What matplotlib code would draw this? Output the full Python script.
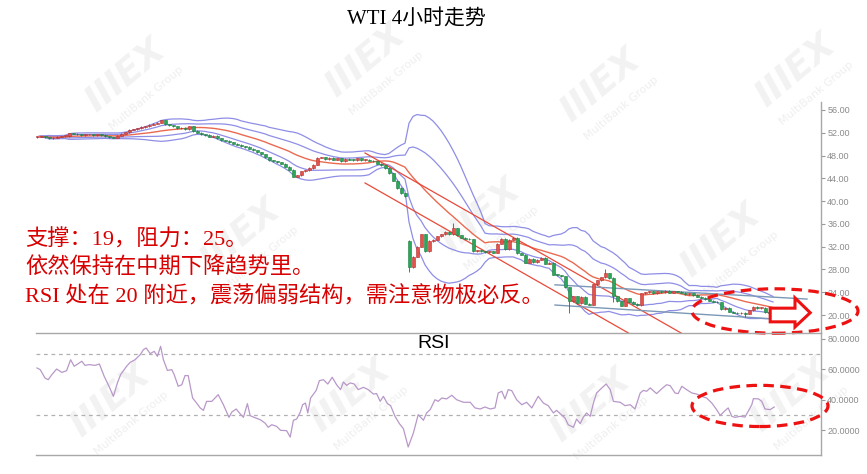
import matplotlib
matplotlib.use("Agg")
import matplotlib.pyplot as plt
import numpy as np
import pandas as pd
from matplotlib.patches import Ellipse, Polygon

plt.rcParams["font.family"] = ["Noto Sans CJK SC", "DejaVu Sans"]

title = "WTI 4小时走势"
notes = [
    "支撑：19，阻力：25。",
    "依然保持在中期下降趋势里。",
    "RSI 处在 20 附近，震荡偏弱结构，需注意物极必反。",
]

# 4h closes, one per candle
closes = [
    51.3, 51.4, 51.2, 51.0, 51.1, 51.3, 51.4, 51.4, 51.9, 51.8,
    51.7, 51.6, 51.7, 51.7, 51.6, 51.7, 51.6, 51.4, 51.2, 51.1,
    51.5, 51.8, 52.1, 52.5, 52.6, 52.8, 53.0, 53.1, 53.4, 53.6,
    53.8, 54.2, 53.5, 53.3, 53.1, 52.8, 52.9, 52.6, 53.1, 52.3,
    52.0, 51.7, 51.6, 51.3, 51.5, 51.0, 50.7, 50.6, 50.3, 50.1,
    49.9, 49.6, 49.5, 49.2, 48.9, 48.6, 48.2, 47.7, 47.2, 47.0,
    46.8, 46.6, 46.0, 45.5, 44.3, 44.5, 45.2, 45.4, 45.8, 46.4,
    47.6, 47.7, 47.4, 47.6, 47.3, 47.5, 47.0, 47.4, 47.3, 47.2,
    47.5, 47.2, 47.3, 47.1, 47.0, 46.6, 46.3, 45.8, 44.9, 43.6,
    42.3, 41.4, 40.9, 28.4, 30.2, 32.0, 34.2, 31.2, 33.0, 33.2,
    33.8, 34.2, 34.6, 34.2, 35.2, 34.0, 33.6, 33.4, 33.3, 31.2,
    31.4, 31.2, 31.0, 31.2, 30.9, 32.5, 33.4, 31.6, 33.2, 33.6,
    30.8, 30.6, 29.2, 29.9, 29.3, 29.7, 30.0, 29.0, 29.2, 27.1,
    27.0, 26.8, 24.9, 22.4, 23.3, 22.1, 23.2, 22.0, 21.8, 25.4,
    26.1, 26.6, 27.3, 26.5, 23.3, 22.4, 21.6, 22.9, 22.3, 22.0,
    21.7, 23.8, 24.0, 24.2, 23.8, 24.2, 24.0, 24.3, 23.9, 24.2,
    24.1, 23.9, 23.7, 23.8, 23.5, 23.2, 23.0, 22.8, 22.5, 22.3,
    22.2, 21.0, 21.3, 20.6, 20.4, 20.3, 20.4, 20.2, 20.8, 21.4,
    21.2, 21.3, 20.5, 20.4, 20.4,
]
first_open = 51.2
gap_opens = {93: 33.0}
wick_highs = {104: 36.1, 142: 28.0}
wick_lows = {93: 27.6, 133: 20.4, 144: 22.3, 177: 19.7}

rsi_idx = [
    0, 0.8, 2.0, 2.8, 3.7, 4.9, 6.2, 7.4, 8.4, 9.3, 10.3, 11.2, 12.0, 13.1, 14.5,
    15.6, 16.8, 18.0, 19.1, 20.1, 20.9, 22.4, 23.3, 24.5, 25.8, 26.6, 27.3, 28.3,
    29.3, 30.1, 30.9, 31.6, 32.6, 33.7, 34.3, 35.3, 36.2, 37.0, 37.8, 38.9, 39.9,
    40.8, 41.6, 42.4, 43.7, 44.5, 45.3, 46.6, 48.0, 48.7, 49.8, 50.6, 51.6, 52.6,
    53.3, 54.3, 55.8, 57.0, 57.8, 58.7, 59.9, 60.9, 62.4, 63.3, 64.1, 64.9, 65.8,
    66.4, 67.1, 67.7, 68.4, 69.8, 70.6, 71.6, 72.7, 73.8, 74.9, 75.9, 76.6, 77.4,
    78.3, 79.3, 80.3, 81.6, 82.8, 84.1, 84.9, 85.8, 86.6, 87.6, 88.4, 89.5, 90.6,
    91.6, 92.8, 94.1, 95.3, 96.6, 97.4, 98.3, 99.5, 100.3, 101.2, 102.4, 103.7,
    104.9, 106.6, 108.3, 109.5, 110.8, 112.0, 113.3, 114.5, 115.3, 116.2, 117.0,
    117.8, 118.7, 119.9, 121.2, 122.4, 123.7, 125.3, 126.6, 127.8, 129.1, 129.9,
    130.8, 132.0, 132.8, 134.1, 134.9, 135.8, 136.6, 137.4, 138.3, 139.1, 139.9,
    141.2, 142.3, 143.3, 144.1, 145.8, 147.0, 148.3, 149.5, 150.8, 151.6, 152.4,
    153.3, 154.9, 156.2, 157.4, 158.3, 159.5, 160.3, 161.2, 162.4, 163.7, 164.9,
    166.2, 167.4, 168.7, 169.9, 170.8, 172.0, 172.8, 173.7, 174.5, 175.8, 177.0,
    177.8, 178.7, 179.1, 180.4, 181.2, 182.0, 183.3, 184.3,
]
rsi_vals = [
    61.0, 59.9, 54.4, 53.3, 56.6, 60.3, 58.1, 59.2, 66.4, 62.1, 63.8, 65.4, 62.7, 63.2, 62.7,
    63.6, 55.5, 49.0, 42.4, 51.2, 56.6, 62.1, 64.7, 66.4, 69.7, 73.0, 74.1, 70.4,
    71.9, 68.6, 75.2, 66.4, 59.4, 59.9, 56.6, 49.0, 50.0, 56.0, 56.0, 41.3, 38.0,
    34.8, 33.2, 39.1, 39.1, 41.3, 43.5, 36.9, 28.6, 32.1, 34.1, 31.5, 28.6, 37.6,
    29.7, 28.6, 27.1, 24.9, 22.1, 23.8, 22.7, 20.1, 19.9, 15.7, 26.7, 27.5, 31.9,
    36.9, 38.0, 31.5, 41.3, 46.3, 52.7, 53.3, 50.5, 54.9, 50.0, 46.8, 51.8, 49.6,
    51.2, 50.5, 46.8, 48.3, 46.8, 43.9, 44.2, 39.1, 42.4, 37.6, 36.3, 29.3, 24.5,
    21.2, 9.2, 18.4, 30.4, 26.7, 31.5, 33.7, 40.2, 39.1, 41.3, 40.7, 43.1,
    40.2, 38.5, 38.5, 34.8, 34.1, 35.4, 34.1, 34.8, 44.6, 45.7, 40.7,
    46.8, 46.1, 40.2, 36.9, 38.5, 34.8, 42.4, 38.0, 36.3, 31.5, 33.2,
    31.0, 28.2, 23.8, 22.1, 27.5, 24.5, 28.8, 31.5, 29.3, 38.0, 44.6,
    47.9, 50.5, 46.8, 39.1, 38.5, 36.3, 36.9, 34.1, 44.6, 46.3, 45.7,
    47.9, 44.2, 47.4, 50.0, 49.4, 44.6, 44.2, 49.0, 46.8, 44.6, 43.9,
    42.4, 41.3, 38.0, 33.7, 29.9, 33.0, 34.8, 29.3, 28.6, 29.3, 28.8,
    32.6, 36.9, 40.9, 40.7, 39.1, 34.1, 33.7, 35.4,
]

price_ticks = [20, 24, 28, 32, 36, 40, 44, 48, 52, 56]
rsi_ticks = [20, 40, 60, 80]
rsi_levels = [30, 70]

# hand-drawn trend lines, (candle index, price)
channel_top = [(82, 48.45), (165, 15.25)]
channel_bottom = [(82, 43.18), (165, 9.98)]
range_top = [(129.5, 25.3), (192.5, 22.8)]
range_bottom = [(129.5, 21.75), (184.5, 19.3)]

RED_UP = "#e4534b"
GREEN_DN = "#2aa85a"
BAND = "#8f8ee6"
MID = "#ea6a50"
NOTE_RED = "#d80000"
GRAY = "#9a9a9a"
SERIF_CJK = ["Liberation Serif", "Noto Sans CJK SC"]


def watermark(fig, x, y):
    fig.text(x, y, "IIIEX", rotation=40, fontsize=26, fontweight="bold",
             fontstyle="italic", color="#f2f2f2", ha="center", va="center",
             family="DejaVu Sans", zorder=-1)
    fig.text(x + 0.025, y - 0.05, "MultiBank Group", rotation=40, fontsize=8,
             color="#efefef", ha="center", va="center", family="DejaVu Sans", zorder=-1)


fig = plt.figure(figsize=(8.67, 4.74), dpi=100)
W, H = 867, 474

for px, py in [(125, 75), (365, 60), (600, 85), (795, 70), (240, 235), (480, 215),
               (720, 240), (110, 400), (350, 395), (590, 405), (790, 395)]:
    watermark(fig, px / W, 1 - py / H)

left, right = 36 / W, 821 / W
ax = fig.add_axes([left, 1 - 333 / H, right - left, 231 / H])
ax2 = fig.add_axes([left, 1 - 455 / H, right - left, 122 / H])
for a in (ax, ax2):
    a.set_facecolor("none")
    a.set_xlim(-0.25, 196)
    a.set_xticks([])
    a.yaxis.tick_right()
    a.tick_params(axis="y", length=3, width=0.8, color=GRAY, labelsize=6.5,
                  labelcolor="#8a8a8a", pad=1.5)
    a.spines["left"].set_visible(False)
    for s in ("right", "top", "bottom"):
        a.spines[s].set_color("#a8a8a8")
        a.spines[s].set_linewidth(1.0)
ax.spines["top"].set_visible(False)
ax.spines["bottom"].set_visible(False)

# --- candles
c = np.array(closes)
o = np.r_[first_open, c[:-1]]
for k, v in gap_opens.items():
    o[k] = v
hi = np.maximum(o, c) + 0.1
lo = np.minimum(o, c) - 0.1
for k, v in wick_highs.items():
    hi[k] = v
for k, v in wick_lows.items():
    lo[k] = v
x = np.arange(len(c))
up = c >= o
ax.vlines(x, lo, hi, color="#555555", lw=0.6, zorder=3)
ax.bar(x, np.maximum(np.abs(c - o), 0.12), bottom=np.minimum(o, c), width=0.75,
       color=np.where(up, RED_UP, GREEN_DN), edgecolor=np.where(up, "#b03030", "#1d7a40"),
       linewidth=0.4, zorder=4)

# --- Bollinger bands (20)
s = pd.Series(closes)
mid = s.rolling(20, min_periods=1).mean()
sd = s.rolling(20, min_periods=1).std(ddof=0)
for k in (2, 1, -1, -2):
    ax.plot(x, mid + k * sd, color=BAND, lw=0.9, zorder=2)
ax.plot(x, mid, color=MID, lw=1.0, zorder=2)

for line in (channel_top, channel_bottom):
    ax.plot(*zip(*line), color="#e84a3a", lw=0.9, zorder=2)
for line in (range_top, range_bottom):
    ax.plot(*zip(*line), color="#7b98b6", lw=1.0, zorder=2)

ax.set_ylim(16.84, 57.4)
ax.set_yticks(price_ticks)
ax.set_yticklabels([f"{t:.2f}" for t in price_ticks], family="Liberation Sans")

# annotation on price panel
ax.add_patch(Ellipse((184.5, 20.7), 41.5, 7.8, fill=False, edgecolor="#ee1111", lw=2.3,
                     ls=(0, (3.3, 2.0)), clip_on=False, zorder=6))
arrow = [(183.3, 21.2), (189.5, 21.2), (189.5, 23.0), (193.3, 20.4),
         (189.5, 17.9), (189.5, 18.8), (183.3, 18.8)]
ax.add_patch(Polygon(arrow, closed=True, facecolor="white", edgecolor="#ee1111",
                     lw=2.2, clip_on=False, zorder=7))

# --- RSI panel
for lvl in rsi_levels:
    ax2.axhline(lvl, color="#b0b0b0", lw=0.9, ls=(0, (3, 3)), zorder=1)
ax2.plot(rsi_idx, rsi_vals, color="#b898c8", lw=0.9, zorder=3)
ax2.set_ylim(3.93, 83.93)
ax2.set_yticks(rsi_ticks)
ax2.set_yticklabels([f"{t:.4f}" for t in rsi_ticks], family="Liberation Sans")
ax2.text(0.507, 0.985, "RSI", transform=ax2.transAxes, ha="center", va="top",
         fontsize=14, family="Liberation Sans", color="black")
ax2.add_patch(Ellipse((180.75, 36.1), 34, 27, fill=False, edgecolor="#ee1111", lw=2.3,
                      ls=(0, (3.3, 2.0)), clip_on=False, zorder=6))

fig.text(416 / W, 1 - 19 / H, title, ha="center", va="center", fontsize=15,
         color="black", family=SERIF_CJK)
for txt, py in zip(notes, [240, 268, 297]):
    fig.text(25 / W, 1 - py / H, txt, ha="left", va="center", fontsize=16,
             color=NOTE_RED, family=SERIF_CJK, zorder=8)

fig.savefig("out.png", dpi=100, facecolor="white")
